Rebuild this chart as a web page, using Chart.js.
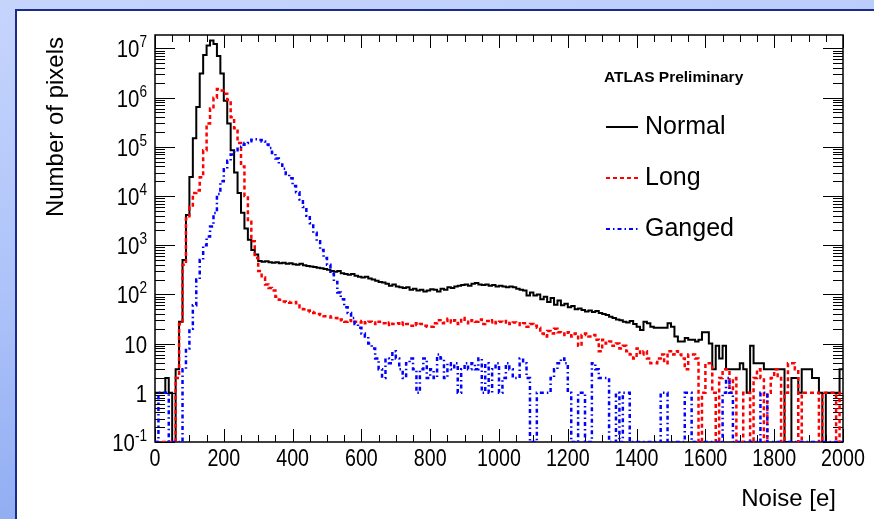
<!DOCTYPE html>
<html>
<head>
<meta charset="utf-8">
<script src="https://cdn.jsdelivr.net/npm/chart.js@4.4.0/dist/chart.umd.min.js"></script>
<style>
  html, body { margin: 0; padding: 0; }
  body {
    width: 874px; height: 519px; overflow: hidden; position: relative;
    background: linear-gradient(172deg, #c6d5fc 0%, #adc3f9 45%, #84a3ef 100%);
  }
  .panel {
    position: absolute; left: 15px; top: 9px; width: 880px; height: 540px;
    background: #fff; border: 2px solid #1b2b8c;
  }
  #chart { position: absolute; left: 0; top: 0; }
</style>
</head>
<body>
<div class="panel"></div>
<canvas id="chart" width="874" height="519"></canvas>
<script>
// noise histograms, 10 e bins from 0 to 2000
const binWidth = 10;
const xTicks = [0, 200, 400, 600, 800, 1000, 1200, 1400, 1600, 1800, 2000];
const yDecades = [-1, 0, 1, 2, 3, 4, 5, 6, 7];
const yMin = 0.1;
const yMax = 1.88e7;

const normal = [
  1, 1, 1, 2, 1, 0, 3, 28, 500, 4100,
  24500, 150000, 650000, 3100000, 7400000, 11500000, 14500000, 12400000, 7000000, 3100000,
  870000, 300000, 85000, 30000, 11500, 4600, 2200, 1300, 800, 650,
  480, 460, 470, 450, 440, 450, 430, 440, 420, 430,
  410, 400, 420, 390, 380, 370, 360, 350, 340, 330,
  316, 300, 290, 300, 270, 260, 250, 260, 240, 230,
  220, 230, 210, 200, 190, 180, 175, 165, 150, 160,
  145, 140, 135, 140, 125, 130, 120, 125, 115, 120,
  128, 125, 115, 130, 125, 140, 135, 145, 150, 155,
  160, 150, 165, 170, 160, 155, 160, 150, 155, 145,
  150, 145, 140, 145, 140, 130, 125, 120, 95, 110,
  95, 100, 80, 90, 70, 85, 62, 75, 60, 65,
  55, 58, 50, 52, 48, 45, 47, 44, 46, 42,
  40, 38, 35, 33, 31, 30, 28, 27, 29, 25,
  22, 19, 28, 26, 22, 21, 21, 21, 21, 26,
  22, 14, 11, 11, 13, 12, 12, 11, 12, 17,
  17, 10, 3, 9, 5, 9, 3, 3, 3, 3,
  4, 3, 1, 9, 4, 4, 4, 3, 3, 3,
  3, 3, 3, 0, 0, 2, 2, 1, 3, 3,
  3, 2, 2, 1, 0, 1, 1, 1, 1, 3,
];

const long = [
  0, 0, 0, 0, 0, 0, 2, 25, 400, 3500,
  6000, 11500, 13000, 24000, 85000, 300000, 600000, 1000000, 1500000, 1400000,
  1200000, 900000, 400000, 240000, 120000, 40000, 10000, 3000, 1200, 550,
  300, 220, 160, 135, 120, 90, 78, 72, 70, 68,
  70, 66, 55, 50, 47, 44, 42, 40, 38, 36,
  36, 34, 33, 30, 31, 28, 30, 27, 28, 27,
  29, 26, 28, 27, 25, 28, 26, 24, 27, 25,
  26, 24, 27, 25, 23, 26, 24, 25, 23, 22,
  22, 26, 30, 26, 29, 32, 27, 30, 25, 33,
  28, 26, 30, 28, 31, 25, 29, 27, 30, 26,
  28, 27, 29, 25, 27, 26, 24, 26, 22, 25,
  23, 21, 16, 14, 18, 16, 20, 17, 16, 15,
  17, 14, 16, 9, 15, 16, 14, 15, 12, 7,
  12, 10, 11, 9, 10, 8, 9, 7, 6, 5,
  8, 6, 7, 5, 4, 4, 5, 6, 4, 7,
  6, 7, 6, 5, 3, 6, 6, 5, 0, 1,
  4, 4, 1, 0, 2, 3, 3, 1, 2, 0,
  0, 1, 1, 0, 2, 3, 2, 0, 1, 2,
  3, 2, 0, 1, 4, 4, 3, 0, 1, 1,
  1, 1, 1, 0, 1, 1, 1, 1, 0, 1,
];

const ganged = [
  0, 1, 1, 1, 0, 0, 0, 0, 3, 8,
  20, 60, 200, 500, 1000, 1500, 2400, 4500, 11000, 20000,
  35000, 52000, 70000, 85000, 100000, 110000, 120000, 130000, 140000, 142000,
  138000, 128000, 112000, 95000, 75000, 58000, 44000, 36000, 28000, 23000,
  16000, 12000, 8500, 6000, 4000, 2800, 1800, 1200, 800, 550,
  400, 260, 180, 110, 80, 55, 42, 33, 25, 21,
  16, 14, 10, 8, 5, 3, 2, 5, 4, 7,
  5, 3, 2, 4, 5, 3, 1, 3, 5, 2,
  3, 2, 6, 5, 2, 4, 3, 4, 1, 3,
  4, 3, 4, 3, 5, 1, 4, 1, 3, 4,
  1, 2, 4, 3, 2, 2, 5, 4, 2, 0,
  0, 1, 1, 1, 1, 2, 3, 4, 5, 4,
  1, 0, 0, 1, 1, 0, 0, 4, 3, 2,
  2, 2, 0, 0, 1, 0, 1, 1, 0, 0,
  0, 0, 0, 0, 0, 0, 0, 1, 1, 0,
  0, 0, 0, 0, 1, 1, 0, 0, 0, 0,
  0, 0, 0, 0, 0, 1, 2, 1, 0, 0,
  0, 0, 0, 0, 0, 0, 1, 1, 0, 0,
  0, 0, 0, 0, 0, 0, 0, 0, 0, 0,
  0, 0, 0, 0, 0, 0, 0, 0, 0, 0,
];

const seriesNames = ["Normal", "Long", "Ganged"];
const seriesColors = ["#000000", "#ff0000", "#0000ff"];
const seriesDash = [[], [4, 3], [4, 3, 1.5, 3]];
const seriesWidth = [2, 2.5, 2.5];

// empty bins sit on the axis floor, like ROOT does in log scale
function toSteps(values) {
  const pts = values.map((v, i) => ({ x: i * binWidth, y: v > 0 ? v : yMin }));
  pts.push({ x: values.length * binWidth, y: pts[pts.length - 1].y });
  return pts;
}

const FONT = "'Liberation Sans', Arial, sans-serif";

function squeezedText(ctx, str, x, y, size, align, sx, weight) {
  ctx.save();
  ctx.translate(x, y);
  ctx.scale(sx, 1);
  ctx.font = (weight || "") + " " + size + "px " + FONT;
  ctx.textAlign = align;
  ctx.fillText(str, 0, 0);
  ctx.restore();
}

const rootFrame = {
  id: "rootFrame",
  beforeDatasetsDraw(chart) {
    const ctx = chart.ctx;
    const a = chart.chartArea;
    const xs = chart.scales.x;
    const ys = chart.scales.y;
    ctx.save();
    ctx.strokeStyle = "#000";
    ctx.lineWidth = 1;
    ctx.beginPath();
    // x ticks, top and bottom
    for (let v = 0; v <= 2000; v += 50) {
      const px = Math.round(xs.getPixelForValue(v)) + 0.5;
      const len = v % 200 === 0 ? 13 : 7;
      ctx.moveTo(px, a.bottom); ctx.lineTo(px, a.bottom - len);
      ctx.moveTo(px, a.top); ctx.lineTo(px, a.top + len);
    }
    // y ticks, left and right
    yDecades.forEach((d) => {
      for (let k = 1; k <= 9; k++) {
        const val = k * Math.pow(10, d);
        if (val > yMax) break;
        const py = Math.round(ys.getPixelForValue(val)) + 0.5;
        const len = k === 1 ? 20 : 10;
        ctx.moveTo(a.left, py); ctx.lineTo(a.left + len, py);
        ctx.moveTo(a.right, py); ctx.lineTo(a.right - len, py);
      }
    });
    ctx.stroke();
    ctx.lineWidth = 1.5;
    ctx.strokeRect(a.left, a.top, a.right - a.left, a.bottom - a.top);
    ctx.restore();
  },
  afterDraw(chart) {
    const ctx = chart.ctx;
    const xs = chart.scales.x;
    const ys = chart.scales.y;
    ctx.save();
    ctx.fillStyle = "#000";
    ctx.textBaseline = "alphabetic";

    // x tick labels
    xTicks.forEach((v) => {
      squeezedText(ctx, String(v), xs.getPixelForValue(v), 466, 24, "center", 0.82);
    });

    // y tick labels
    const sx = 0.85;
    yDecades.forEach((d) => {
      const py = ys.getPixelForValue(Math.pow(10, d));
      const right = 147;
      let base = "10";
      let sup = "";
      if (d === 0) base = "1";
      else if (d !== 1) sup = String(d);
      ctx.font = "16px " + FONT;
      const wSup = sup ? ctx.measureText(sup).width * sx : 0;
      ctx.font = "24px " + FONT;
      const wBase = ctx.measureText(base).width * sx;
      squeezedText(ctx, base, right - wSup - wBase, py + 9, 24, "left", sx);
      if (sup) squeezedText(ctx, sup, right - wSup, py - 1, 16, "left", sx);
    });

    // axis titles
    ctx.font = "24px " + FONT;
    ctx.textAlign = "right";
    ctx.fillText("Noise [e]", 836, 506);
    ctx.save();
    ctx.translate(63, 37);
    ctx.rotate(-Math.PI / 2);
    ctx.fillText("Number of pixels", 0, 0);
    ctx.restore();

    // legend
    ctx.textAlign = "left";
    ctx.font = "bold 15.5px " + FONT;
    ctx.fillText("ATLAS Preliminary", 604, 82);
    const rows = [127, 178, 229];
    seriesNames.forEach((name, i) => {
      ctx.save();
      ctx.strokeStyle = seriesColors[i];
      ctx.lineWidth = 2;
      ctx.setLineDash(seriesDash[i]);
      ctx.beginPath();
      ctx.moveTo(606, rows[i]);
      ctx.lineTo(638, rows[i]);
      ctx.stroke();
      ctx.restore();
      ctx.font = "25px " + FONT;
      ctx.fillText(name, 645, rows[i] + 7);
    });
    ctx.restore();
  },
};

const allSeries = [normal, long, ganged];

new Chart(document.getElementById("chart"), {
  type: "line",
  data: {
    datasets: allSeries.map((values, i) => ({
      label: seriesNames[i],
      data: toSteps(values),
      stepped: true,
      borderColor: seriesColors[i],
      borderWidth: seriesWidth[i],
      borderDash: seriesDash[i],
      pointRadius: 0,
      fill: false,
      order: 3 - i,
    })),
  },
  options: {
    responsive: false,
    animation: false,
    layout: { padding: { left: 155, top: 35, right: 31, bottom: 77 } },
    scales: {
      x: { type: "linear", min: 0, max: 2000, display: false },
      y: { type: "logarithmic", min: yMin, max: yMax, display: false },
    },
    plugins: { legend: { display: false }, tooltip: { enabled: false } },
  },
  plugins: [rootFrame],
});
</script>
</body>
</html>
